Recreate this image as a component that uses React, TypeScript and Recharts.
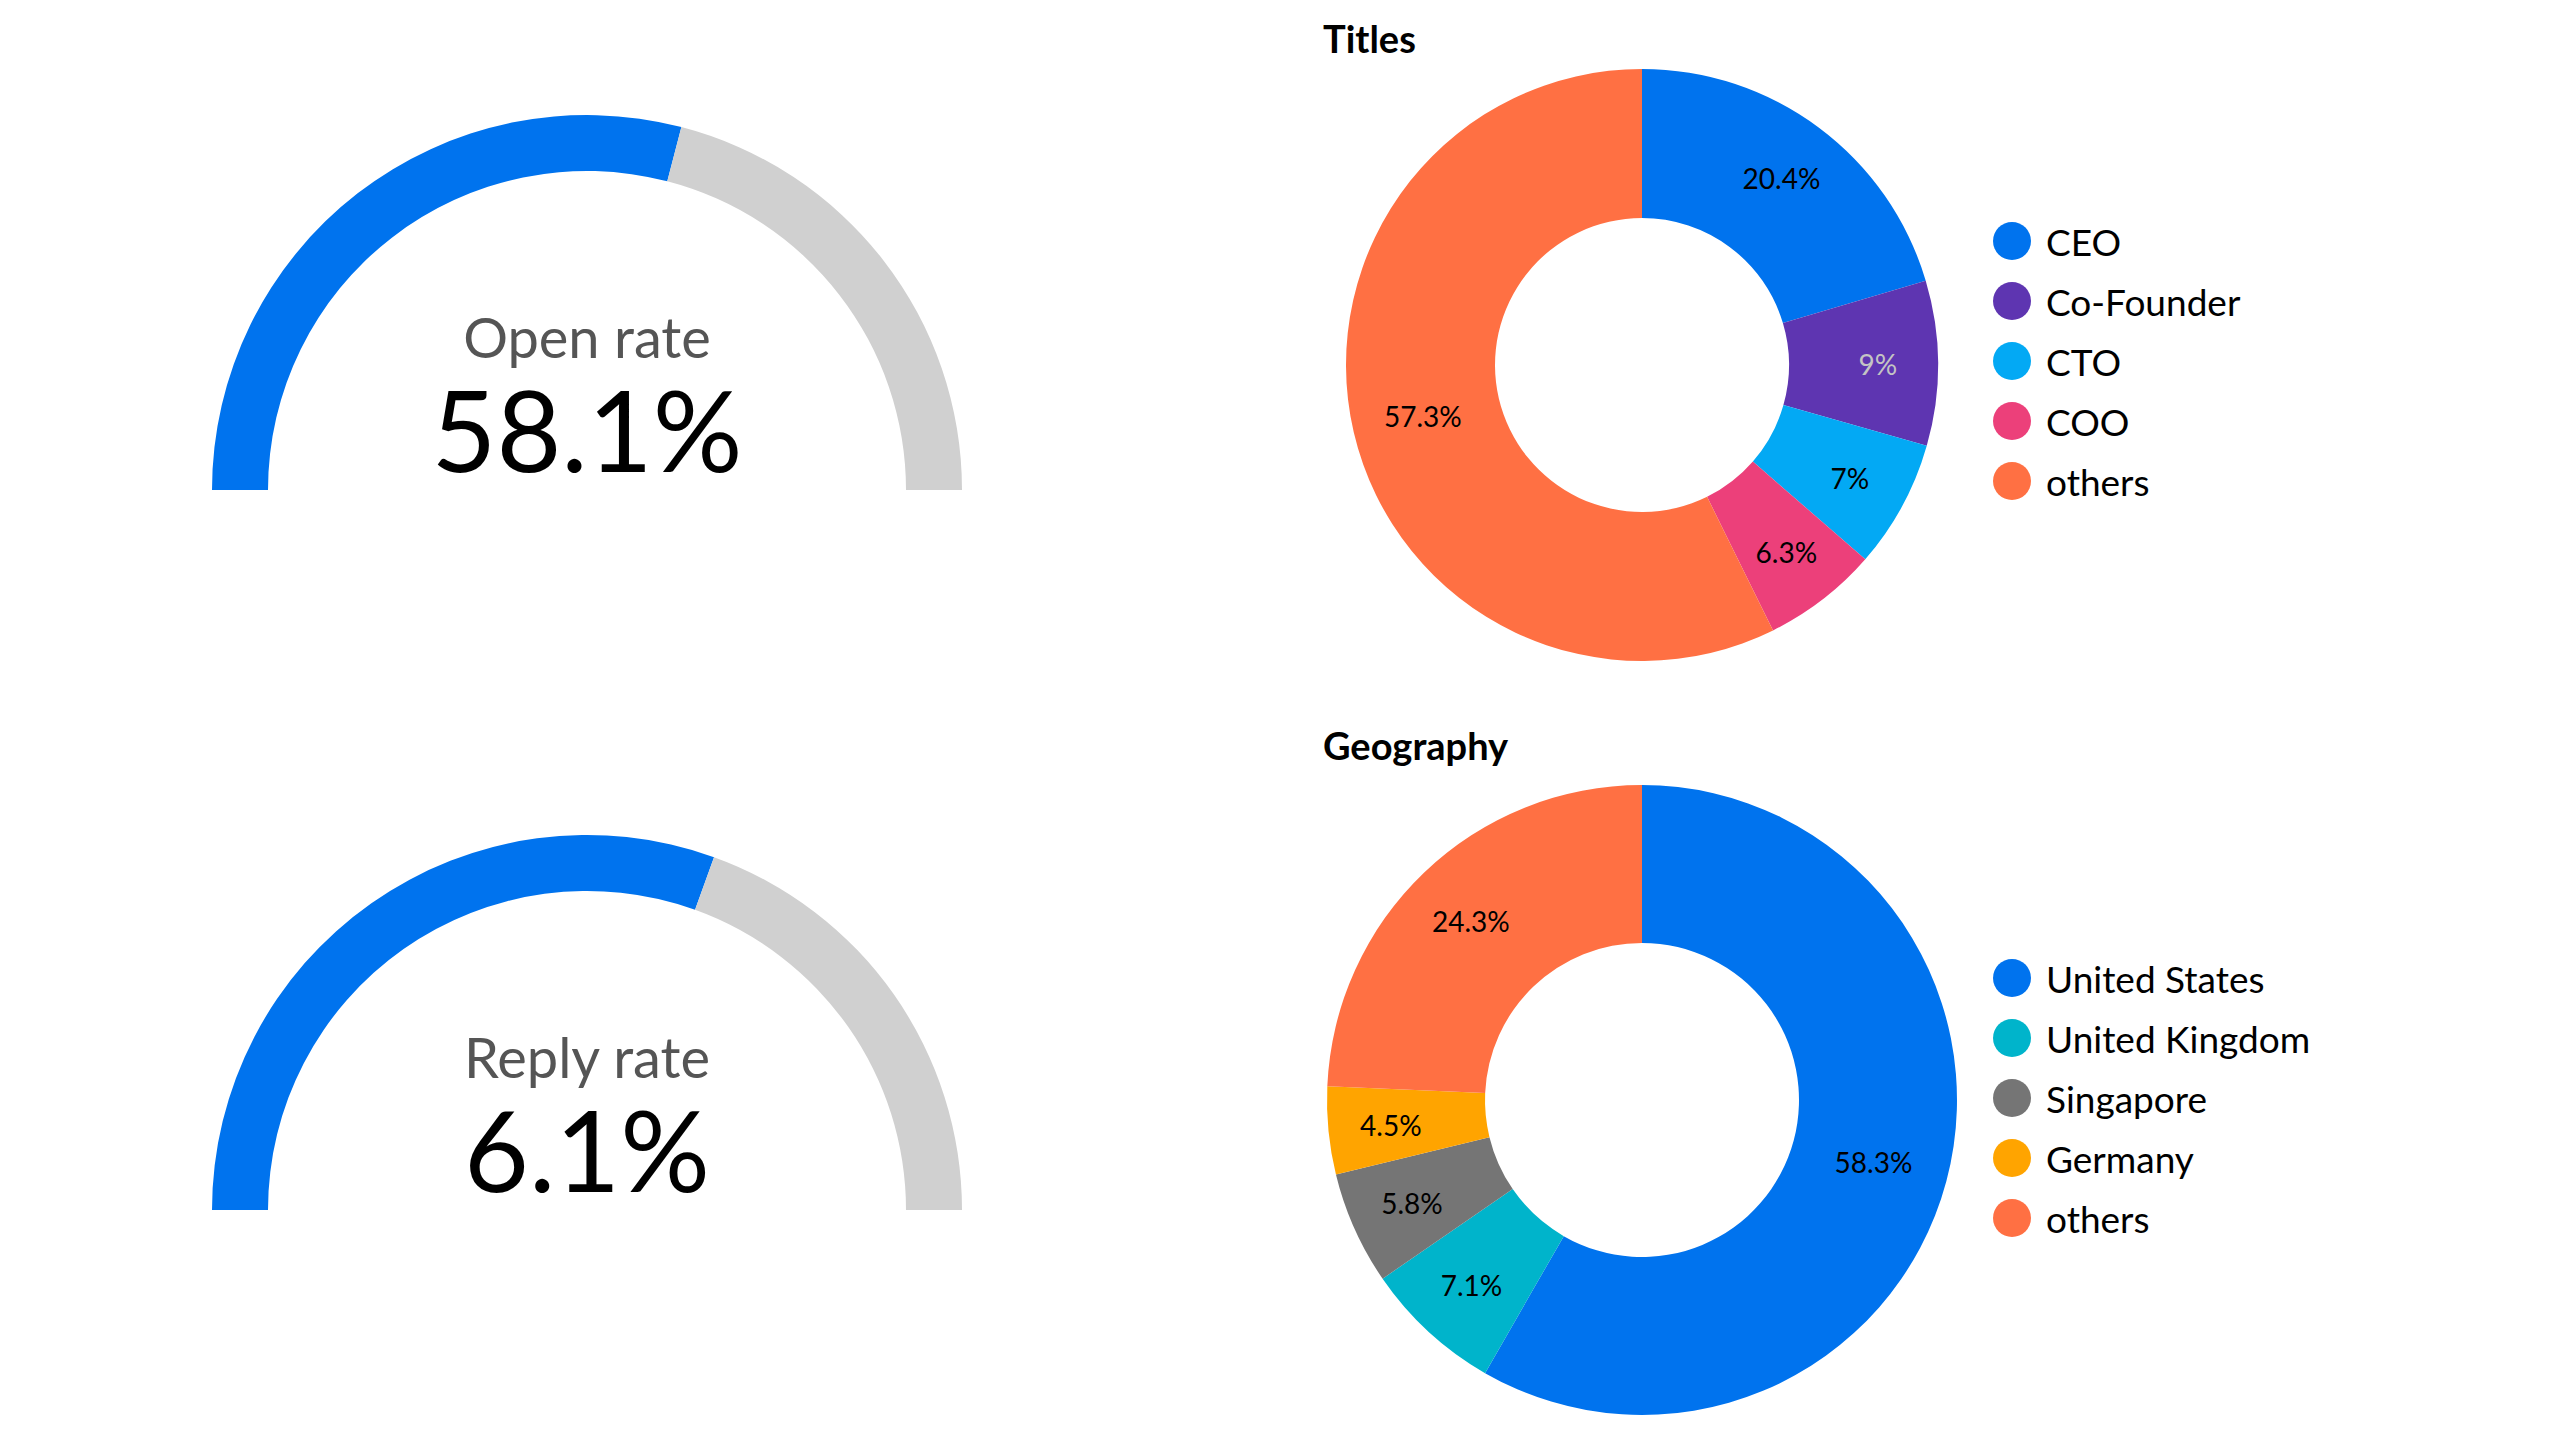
import React from 'react';
import { PieChart, Pie, Cell, Legend } from 'recharts';

const FONT = 'Lato, "Open Sans", sans-serif';

const openRate = 58.1;
const openMax = 100;
const replyRate = 6.1;
const replyMax = 10;

const titleNames = ['CEO', 'Co-Founder', 'CTO', 'COO', 'others'];
const titleValues = [20.4, 9, 7, 6.3, 57.3];
const titleColors = ['#0073EE', '#5E35B1', '#03A9F4', '#EC407A', '#FF7043'];
const titleLabelColors = ['#000', '#c4c4c4', '#000', '#000', '#000'];

const geoNames = ['United States', 'United Kingdom', 'Singapore', 'Germany', 'others'];
const geoValues = [58.3, 7.1, 5.8, 4.5, 24.3];
const geoColors = ['#0073EE', '#00B4CB', '#757575', '#FFA400', '#FF7043'];
const geoLabelColors = ['#000', '#000', '#000', '#000', '#000'];

const RADIAN = Math.PI / 180;
const NO_MARGIN = { top: 0, right: 0, bottom: 0, left: 0 };

interface GaugeProps {
  label: string;
  value: number;
  max: number;
  top: number;
}

const Gauge: React.FC<GaugeProps> = ({ label, value, max, top }) => {
  const data = [
    { name: 'value', value },
    { name: 'rest', value: max - value },
  ];
  return (
    <div style={{ position: 'absolute', left: 187, top, width: 800, height: 430 }}>
      <PieChart width={800} height={430} margin={NO_MARGIN}>
        <Pie
          data={data}
          dataKey="value"
          cx={400}
          cy={420}
          startAngle={180}
          endAngle={0}
          innerRadius={319}
          outerRadius={375}
          stroke="none"
          isAnimationActive={false}
        >
          <Cell fill="#0073EE" />
          <Cell fill="#D0D0D0" />
        </Pie>
      </PieChart>
      <svg width={800} height={430} style={{ position: 'absolute', left: 0, top: 0, pointerEvents: 'none' }}>
        <text x={400} y={288} textAnchor="middle" fontFamily={FONT} fontSize={56} fill="#555">
          {label}
        </text>
        <text x={400} y={402} textAnchor="middle" fontFamily={FONT} fontSize={112} fill="#000">
          {value}%
        </text>
      </svg>
    </div>
  );
};

// narrow slices push their label a little further out, as in the original
const makeLabel = (labelColors: string[]) => (props: any) => {
  const { cx, cy, midAngle, innerRadius, outerRadius, value, index, percent } = props;
  const f = 0.61 - 0.15 * percent;
  const r = innerRadius + (outerRadius - innerRadius) * f;
  const x = cx + r * Math.cos(-midAngle * RADIAN);
  const y = cy + r * Math.sin(-midAngle * RADIAN);
  return (
    <text
      x={x}
      y={y}
      textAnchor="middle"
      dominantBaseline="central"
      fontFamily={FONT}
      fontSize={28}
      fill={labelColors[index]}
    >
      {`${value}%`}
    </text>
  );
};

const renderLegend = (names: string[], colors: string[]) => () => (
  <div style={{ fontFamily: FONT }}>
    {names.map((n, i) => (
      <div key={n} style={{ display: 'flex', alignItems: 'center', height: 60 }}>
        <span
          style={{
            display: 'inline-block',
            width: 38,
            height: 38,
            borderRadius: '50%',
            background: colors[i],
            marginRight: 15,
          }}
        />
        <span style={{ fontSize: 37, color: '#000' }}>{n}</span>
      </div>
    ))}
  </div>
);

interface DonutProps {
  title: string;
  names: string[];
  values: number[];
  colors: string[];
  labelColors: string[];
  top: number;
  height: number;
  cy: number;
  innerRadius: number;
  outerRadius: number;
  legendTop: number;
  titleY: number;
}

const Donut: React.FC<DonutProps> = (p) => {
  const data = p.names.map((name, i) => ({ name, value: p.values[i] }));
  return (
    <div style={{ position: 'absolute', left: 1300, top: p.top, width: 1200, height: p.height }}>
      <svg width={400} height={80} style={{ position: 'absolute', left: 0, top: 0 }}>
        <text x={23} y={p.titleY} fontFamily={FONT} fontWeight="bold" fontSize={38} fill="#000">
          {p.title}
        </text>
      </svg>
      <PieChart width={1200} height={p.height} margin={NO_MARGIN} style={{ position: 'absolute', left: 0, top: 0 }}>
        <Pie
          data={data}
          dataKey="value"
          nameKey="name"
          cx={342}
          cy={p.cy}
          startAngle={90}
          endAngle={-270}
          innerRadius={p.innerRadius}
          outerRadius={p.outerRadius}
          stroke="none"
          labelLine={false}
          label={makeLabel(p.labelColors)}
          isAnimationActive={false}
        >
          {data.map((d, i) => (
            <Cell key={d.name} fill={p.colors[i]} />
          ))}
        </Pie>
        <Legend
          layout="vertical"
          content={renderLegend(p.names, p.colors)}
          wrapperStyle={{ left: 693, top: p.legendTop, width: 450 }}
        />
      </PieChart>
    </div>
  );
};

export default function App() {
  return (
    <div
      style={{
        position: 'absolute',
        left: 0,
        top: 0,
        width: 2560,
        height: 1440,
        background: '#fff',
        fontFamily: FONT,
      }}
    >
      <Gauge label="Open rate" value={openRate} max={openMax} top={70} />
      <Gauge label="Reply rate" value={replyRate} max={replyMax} top={790} />
      <Donut
        title="Titles"
        names={titleNames}
        values={titleValues}
        colors={titleColors}
        labelColors={titleLabelColors}
        top={0}
        height={700}
        cy={365}
        innerRadius={147}
        outerRadius={296}
        legendTop={211}
        titleY={53}
      />
      <Donut
        title="Geography"
        names={geoNames}
        values={geoValues}
        colors={geoColors}
        labelColors={geoLabelColors}
        top={700}
        height={740}
        cy={400}
        innerRadius={157}
        outerRadius={315}
        legendTop={248}
        titleY={60}
      />
    </div>
  );
}
